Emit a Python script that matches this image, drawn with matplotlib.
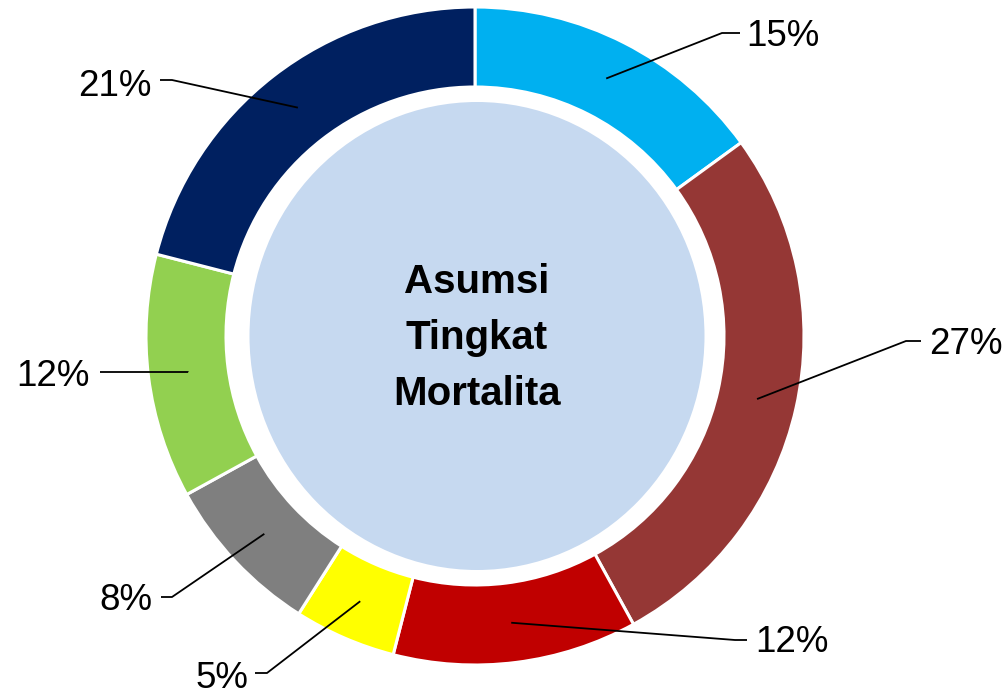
import numpy as np
import matplotlib
matplotlib.use("Agg")
import matplotlib.pyplot as plt
from matplotlib.patches import Ellipse

# Data
labels = ["15%", "27%", "12%", "5%", "8%", "12%", "21%"]
values = [15, 27, 12, 5, 8, 12, 21]
colors = ["#00B0F0", "#953735", "#C00000", "#FFFF00", "#7F7F7F", "#92D050", "#002060"]
center_title = "Asumsi\nTingkat\nMortalita"

W, H = 1007, 695
fig = plt.figure(figsize=(W / 100, H / 100), dpi=100)
ax = fig.add_axes([0, 0, 1, 1])

def Y(y):
    return H - y

cx, cy = 475, Y(336)
R_out, ring_w = 329, 80

wedges, _ = ax.pie(values, colors=colors, startangle=90, counterclock=False,
                   center=(cx, cy), radius=R_out,
                   wedgeprops=dict(width=ring_w, edgecolor="white", linewidth=2.2),
                   frame=True)
ax.set_xlim(0, W)
ax.set_ylim(0, H)
ax.set_aspect("equal")
ax.axis("off")

# inner disc
ax.add_patch(Ellipse((477, cy), 455, 468, facecolor="#C6D9F0", edgecolor="none", zorder=0.5))
ax.text(cx + 2, Y(338), center_title, ha="center", va="center", fontsize=29,
        fontweight="bold", family=["Liberation Sans", "DejaVu Sans"], linespacing=1.6,
        color="black")

# leader lines & labels: (elbow x, elbow y, end x, text x, text y, ha)
layout = [
    (722, 33, 740, 746, 37, "left"),
    (906, 341, 921, 929, 344, "left"),
    (735, 640, 747, 755, 643, "left"),
    (267, 673, 255, 248, 678, "right"),
    (172, 597, 161, 152, 601, "right"),
    (188, 372, 100, 90, 377, "right"),
    (172, 80, 160, 152, 87, "right"),
]
r_mid = R_out - ring_w / 2
for w, lab, (ex, ey, hx, tx, ty, ha) in zip(wedges, labels, layout):
    ang = np.deg2rad((w.theta1 + w.theta2) / 2)
    sx, sy = cx + r_mid * np.cos(ang), cy + r_mid * np.sin(ang)
    ax.plot([sx, ex, hx], [sy, Y(ey), Y(ey)], color="black", lw=1.3, zorder=5,
            solid_capstyle="butt")
    ax.text(tx, Y(ty), lab, ha=ha, va="center", fontsize=26.5,
            family=["Liberation Sans", "DejaVu Sans"], color="black")

fig.savefig("out.png", dpi=100, facecolor="white")
